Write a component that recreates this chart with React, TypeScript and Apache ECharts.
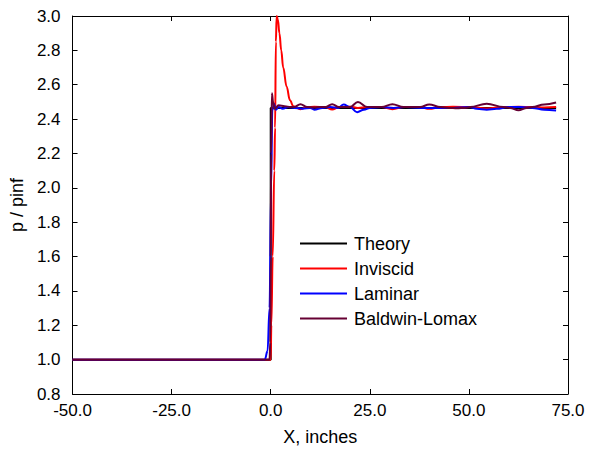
import React, { useEffect, useRef } from "react";
import * as echarts from "echarts";

const seriesNames = ["Theory", "Inviscid", "Laminar", "Baldwin-Lomax"];
const seriesColors = ["#000000", "#ff0000", "#0000ff", "#660033"];

const theoryX = [-50, 0, 0, 72];
const theoryY = [1.0, 1.0, 2.465, 2.465];

const inviscidX = [-50, 0, 0.15, 0.5, 0.9, 1.1, 1.3, 1.5, 1.8, 2.2, 2.65, 3.15, 4.0, 4.85, 5.7, 7.5, 9.2, 11, 13.8, 15.5, 17.2, 20, 22, 24.3, 28, 30.7, 33.5, 37.7, 40, 42.8, 46, 50.3, 54.5, 58.7, 62.5, 66, 69, 72];
const inviscidY = [1.0, 1.0, 1.2, 1.6, 2.1, 2.35, 2.85, 3.0, 2.98, 2.9, 2.8, 2.7, 2.59, 2.51, 2.475, 2.458, 2.47, 2.472, 2.47, 2.456, 2.47, 2.472, 2.465, 2.47, 2.47, 2.458, 2.47, 2.47, 2.46, 2.47, 2.472, 2.47, 2.462, 2.47, 2.472, 2.47, 2.468, 2.47];

const laminarX = [-50, -1.5, -0.8, -0.3, 0.1, 0.4, 0.8, 1.3, 2, 3, 4.5, 6, 8, 10, 11, 13, 15, 17, 18.4, 20, 21.8, 23.5, 25, 28, 31, 34, 38, 42, 46, 50, 52, 54.5, 57, 60, 63, 66, 69, 72];
const laminarY = [1.0, 1.0, 1.05, 1.3, 2.0, 2.45, 2.49, 2.455, 2.47, 2.46, 2.47, 2.465, 2.46, 2.465, 2.455, 2.465, 2.47, 2.465, 2.485, 2.47, 2.44, 2.455, 2.465, 2.47, 2.465, 2.47, 2.465, 2.465, 2.465, 2.47, 2.46, 2.455, 2.46, 2.47, 2.47, 2.465, 2.455, 2.45];

const baldwinX = [-50, -0.3, -0.1, 0, 0.1, 0.3, 0.6, 1.0, 2.0, 3.5, 5.0, 5.9, 7.5, 9.2, 11, 12.5, 13.8, 15.5, 17.2, 18.5, 20, 22, 24.3, 26, 28, 30.7, 33.5, 35.5, 37.7, 40, 42.8, 45, 47, 49, 50.3, 54.5, 58.7, 60.4, 62.5, 64.6, 66, 69, 72];
const baldwinY = [1.0, 1.0, 1.1, 1.6, 2.2, 2.55, 2.5, 2.46, 2.48, 2.475, 2.47, 2.47, 2.487, 2.47, 2.468, 2.47, 2.47, 2.487, 2.47, 2.47, 2.47, 2.5, 2.47, 2.47, 2.47, 2.487, 2.47, 2.47, 2.47, 2.485, 2.47, 2.465, 2.463, 2.465, 2.47, 2.49, 2.47, 2.465, 2.452, 2.465, 2.47, 2.485, 2.497];

const xTicks = { min: -50, max: 75, interval: 25 };
const yTicks = { min: 0.8, max: 3.0, interval: 0.2 };

const zip = (xs: number[], ys: number[]) => xs.map((x, i) => [x, ys[i]]);

const FONT = "'Liberation Sans', Arial, Helvetica, sans-serif";

export default function App() {
  const ref = useRef<HTMLDivElement>(null);
  useEffect(() => {
    if (!ref.current) return;
    const chart = echarts.init(ref.current, undefined, { renderer: "svg" });
    const dataSets = [
      zip(theoryX, theoryY),
      zip(inviscidX, inviscidY),
      zip(laminarX, laminarY),
      zip(baldwinX, baldwinY),
    ];
    const axisLine = { show: true, onZero: false, lineStyle: { color: "#000", width: 1 } };
    const axisTick = { show: true, inside: true, length: 5, lineStyle: { color: "#000", width: 1 } };
    chart.setOption({
      animation: false,
      backgroundColor: "#ffffff",
      textStyle: { fontFamily: FONT },
      grid: { left: 71, right: 22, top: 16, bottom: 59, containLabel: false },
      legend: {
        orient: "vertical",
        left: 295,
        top: 226,
        itemWidth: 47,
        itemHeight: 2,
        itemGap: 0,
        icon: "rect",
        data: seriesNames,
        textStyle: { fontSize: 18, color: "#000", fontFamily: FONT, lineHeight: 25, padding: [0, 0, 0, 2] },
      },
      xAxis: [
        {
          type: "value",
          min: xTicks.min,
          max: xTicks.max,
          interval: xTicks.interval,
          position: "bottom",
          axisLine,
          axisTick,
          splitLine: { show: false },
          axisLabel: { fontSize: 17, color: "#000", margin: 8, fontFamily: FONT, formatter: (v: number) => v.toFixed(1) },
          name: "X, inches",
          nameLocation: "middle",
          nameGap: 34,
          nameTextStyle: { fontSize: 18, color: "#000", fontFamily: FONT },
        },
        {
          type: "value",
          min: xTicks.min,
          max: xTicks.max,
          interval: xTicks.interval,
          position: "top",
          axisLine,
          axisTick,
          splitLine: { show: false },
          axisLabel: { show: false },
        },
      ],
      yAxis: [
        {
          type: "value",
          min: yTicks.min,
          max: yTicks.max,
          interval: yTicks.interval,
          position: "left",
          axisLine,
          axisTick,
          splitLine: { show: false },
          axisLabel: { fontSize: 17, color: "#000", margin: 12, fontFamily: FONT, formatter: (v: number) => v.toFixed(1) },
          name: "p / pinf",
          nameLocation: "middle",
          nameRotate: 90,
          nameGap: 44,
          nameTextStyle: { fontSize: 18, color: "#000", fontFamily: FONT },
        },
        {
          type: "value",
          min: yTicks.min,
          max: yTicks.max,
          interval: yTicks.interval,
          position: "right",
          axisLine,
          axisTick,
          splitLine: { show: false },
          axisLabel: { show: false },
        },
      ],
      series: seriesNames.map((name, i) => ({
        name,
        type: "line",
        xAxisIndex: 0,
        yAxisIndex: 0,
        data: dataSets[i],
        symbol: "none",
        showSymbol: false,
        clip: true,
        smooth: i === 0 ? false : 0.4,
        smoothMonotone: "x",
        lineStyle: { color: seriesColors[i], width: 2 },
        itemStyle: { color: seriesColors[i] },
        z: 2 + i,
      })),
    });
    return () => chart.dispose();
  }, []);
  return (
    <div
      ref={ref}
      style={{ position: "absolute", left: 0, top: 0, width: 590, height: 453, background: "#fff" }}
    />
  );
}
